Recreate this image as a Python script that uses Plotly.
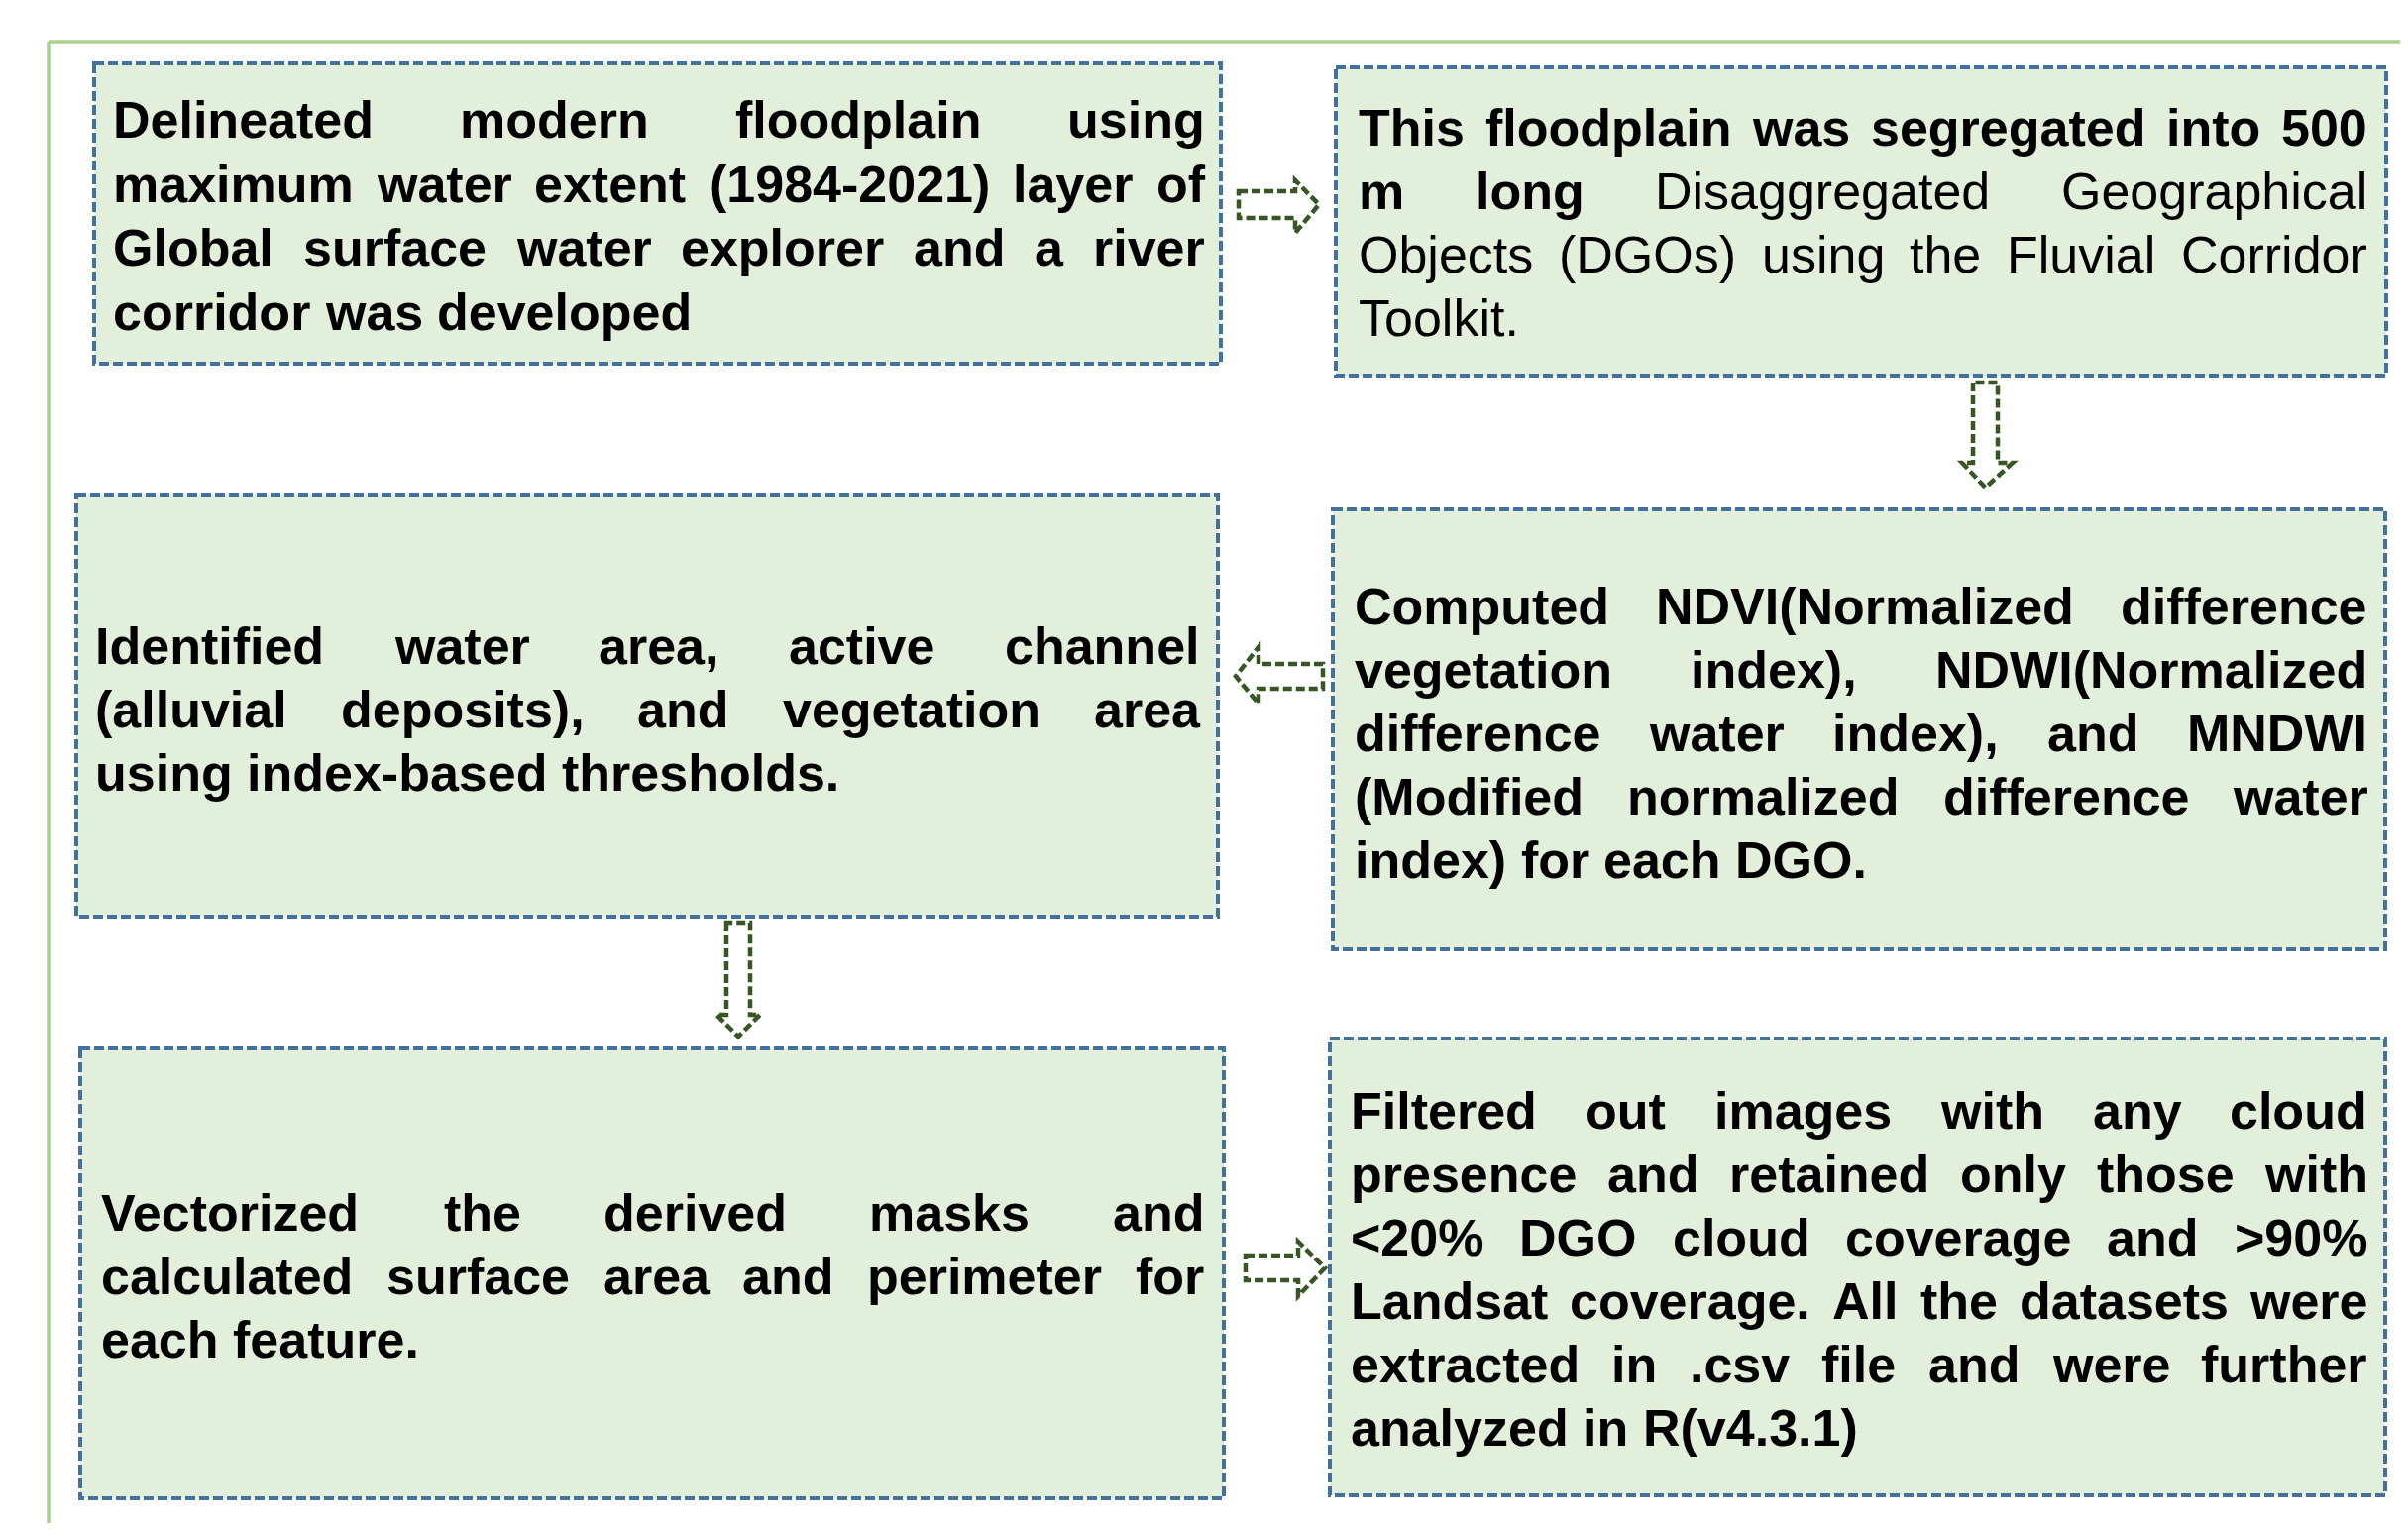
import plotly.graph_objects as go

W, H = 2430, 1545
OFF = 8  # default page body margin of the written html

# ---------------- text content ----------------
box1_lines = [
    "Delineated modern floodplain using",
    "maximum water extent (1984-2021) layer of",
    "Global surface water explorer and a river",
    "corridor was developed",
]
box2_lines = [
    "<b>This floodplain was segregated into 500</b>",
    "<b>m long</b> Disaggregated Geographical",
    "Objects (DGOs) using the Fluvial Corridor",
    "Toolkit.",
]
box3_lines = [
    "Identified water area, active channel",
    "(alluvial deposits), and vegetation area",
    "using index-based thresholds.",
]
box4_lines = [
    "Computed NDVI(Normalized difference",
    "vegetation index), NDWI(Normalized",
    "difference water index), and MNDWI",
    "(Modified normalized difference water",
    "index) for each DGO.",
]
box5_lines = [
    "Vectorized the derived masks and",
    "calculated surface area and perimeter for",
    "each feature.",
]
box6_lines = [
    "Filtered out images with any cloud",
    "presence and retained only those with",
    "<20% DGO cloud coverage and >90%",
    "Landsat coverage. All the datasets were",
    "extracted in .csv file and were further",
    "analyzed in R(v4.3.1)",
]

# ---------------- layout / style ----------------
FONT = "Liberation Sans, Arial, Helvetica, sans-serif"
FILL = "rgb(226,239,218)"
BORDER = "rgb(65,113,156)"
ARROW = "rgb(55,86,35)"
FRAME = "rgb(169,209,142)"

boxes = [
    dict(lines=box1_lines, bold=True, x0=95, x1=1232, y0=64, y1=367,
         tl=113, tr=1215, base=139, gap=64.6, fs=52),
    dict(lines=box2_lines, bold=False, x0=1348, x1=2408, y0=68, y1=379,
         tl=1370, tr=2388, base=147, gap=64, fs=52),
    dict(lines=box3_lines, bold=True, x0=77, x1=1229, y0=500, y1=925,
         tl=95, tr=1210, base=670, gap=64, fs=52),
    dict(lines=box4_lines, bold=True, x0=1345, x1=2407, y0=514, y1=958,
         tl=1366, tr=2388, base=630, gap=64, fs=52),
    dict(lines=box5_lines, bold=True, x0=81, x1=1235, y0=1058, y1=1512,
         tl=101, tr=1214, base=1242, gap=64, fs=52),
    dict(lines=box6_lines, bold=True, x0=1342, x1=2407, y0=1048, y1=1509,
         tl=1362, tr=2388, base=1139, gap=64, fs=52),
]

# arrow outlines: (kind, body_a, body_b, start, body_end, head_a, head_b, tip)
arrows = [
    ("right", 193, 220, 1250, 1307, 182, 235, 1331),
    ("down", 1991, 2016, 386, 467, 1980, 2031, 492),
    ("left", 670, 695, 1335, 1270, 653, 710, 1247),
    ("down", 733, 757, 931, 1024, 723, 767, 1046),
    ("right", 1267, 1292, 1257, 1310, 1253, 1308, 1337),
]

# Arial / Liberation Sans advance widths (1/1000 em)
BOLD_W = {' ': 278, '(': 333, ')': 333, ',': 278, '-': 333, '.': 278, '%': 889,
          '<': 584, '>': 584}
REG_W = {' ': 278, '(': 333, ')': 333, ',': 278, '-': 333, '.': 278, '%': 889,
         '<': 584, '>': 584}
for d in "0123456789":
    BOLD_W[d] = 556
    REG_W[d] = 556
upB = dict(A=722, B=722, C=722, D=722, E=667, F=611, G=778, H=722, I=278, J=556, K=722,
           L=611, M=833, N=722, O=778, P=667, Q=778, R=722, S=667, T=611, U=722, V=667,
           W=944, X=667, Y=667, Z=611)
loB = dict(a=556, b=611, c=556, d=611, e=556, f=333, g=611, h=611, i=278, j=278, k=556,
           l=278, m=889, n=611, o=611, p=611, q=611, r=389, s=556, t=333, u=611, v=556,
           w=778, x=556, y=556, z=500)
upR = dict(A=667, B=667, C=722, D=722, E=667, F=611, G=778, H=722, I=278, J=500, K=667,
           L=556, M=833, N=722, O=778, P=667, Q=778, R=722, S=667, T=611, U=722, V=667,
           W=944, X=667, Y=667, Z=611)
loR = dict(a=556, b=556, c=500, d=556, e=556, f=278, g=556, h=556, i=222, j=222, k=500,
           l=222, m=833, n=556, o=556, p=556, q=556, r=333, s=500, t=278, u=556, v=500,
           w=722, x=500, y=500, z=500)
BOLD_W.update(upB); BOLD_W.update(loB)
REG_W.update(upR); REG_W.update(loR)


def word_width(word, bold, fs):
    tab = BOLD_W if bold else REG_W
    return sum(tab.get(c, 556) for c in word) * fs / 1000.0


def tokenize(line, default_bold):
    toks = []
    bold = default_bold
    for raw in line.split(" "):
        w = raw
        if w.startswith("<b>"):
            bold = True
            w = w[3:]
        close = False
        if w.endswith("</b>"):
            w = w[:-4]
            close = True
        toks.append((w, bold))
        if close:
            bold = default_bold
    return toks


def esc(s):
    return s.replace("&", "&amp;").replace("<", "&lt;").replace(">", "&gt;")


fig = go.Figure()
fig.add_trace(go.Scatter(x=[OFF, W - OFF], y=[OFF, H - OFF], mode="markers",
                         marker=dict(opacity=0), hoverinfo="skip", showlegend=False))

shapes = []
annotations = []

# outer green frame
shapes.append(dict(type="line", x0=49, x1=W + 5, y0=42, y1=42,
                   line=dict(color=FRAME, width=3.5)))
shapes.append(dict(type="line", x0=49, x1=49, y0=42, y1=H + 5,
                   line=dict(color=FRAME, width=3.5)))

for b in boxes:
    shapes.append(dict(type="rect", x0=b["x0"], x1=b["x1"], y0=b["y0"], y1=b["y1"],
                       fillcolor=FILL, layer="below",
                       line=dict(color=BORDER, width=4, dash="10px,4px")))
    fs = b["fs"]
    n = len(b["lines"])
    for i, line in enumerate(b["lines"]):
        toks = tokenize(line, b["bold"])
        widths = [word_width(w, bd, fs) for w, bd in toks]
        last = (i == n - 1)
        if last or len(toks) == 1:
            gaps = [word_width(" ", bd, fs) for _, bd in toks][:-1]
        else:
            g = (b["tr"] - b["tl"] - sum(widths)) / (len(toks) - 1)
            gaps = [g] * (len(toks) - 1)
        baseline = b["base"] + i * b["gap"]
        yc = baseline - 0.3465 * fs
        x = b["tl"]
        for k, ((w, bd), ww) in enumerate(zip(toks, widths)):
            txt = esc(w)
            if bd:
                txt = "<b>" + txt + "</b>"
            annotations.append(dict(x=x, y=yc, xref="x", yref="y", text=txt,
                                    showarrow=False, xanchor="left", yanchor="middle",
                                    borderpad=0,
                                    font=dict(family=FONT, size=fs, color="black")))
            if k < len(gaps):
                x += ww + gaps[k]

for a in arrows:
    kind, p, q, s, e, ha, hb, tip = a
    mid = (p + q) / 2
    if kind in ("right", "left"):
        path = (f"M{s},{p} L{e},{p} L{e},{ha} L{tip},{mid} L{e},{hb} "
                f"L{e},{q} L{s},{q} Z")
    else:
        path = (f"M{p},{s} L{p},{e} L{ha},{e} L{mid},{tip} L{hb},{e} "
                f"L{q},{e} L{q},{s} Z")
    shapes.append(dict(type="path", path=path, fillcolor="rgba(0,0,0,0)",
                       line=dict(color=ARROW, width=4.5, dash="9px,4px")))

fig.update_layout(
    width=W - 2 * OFF, height=H - 2 * OFF,
    margin=dict(l=0, r=0, t=0, b=0),
    paper_bgcolor="white", plot_bgcolor="white",
    xaxis=dict(range=[OFF, W - OFF], visible=False, fixedrange=True),
    yaxis=dict(range=[H - OFF, OFF], visible=False, fixedrange=True),
    shapes=shapes, annotations=annotations, showlegend=False,
)

fig.write_html("out.html")
